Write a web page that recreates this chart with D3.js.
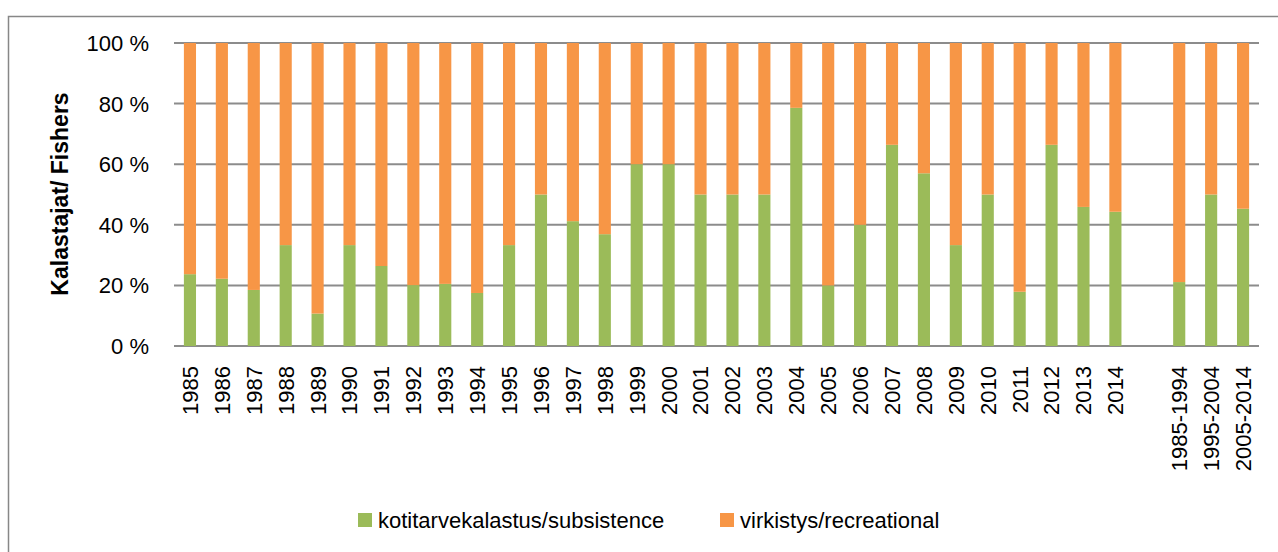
<!DOCTYPE html>
<html lang="fi">
<head>
  <meta charset="UTF-8">
  <title>Kalastajat / Fishers</title>
  <script src="https://d3js.org/d3.v7.min.js"></script>
  <style>
    body {
      margin: 0;
      background: #fff;
      font-family: "Liberation Sans", Arial, sans-serif;
    }
    svg { display: block; }
  </style>
</head>
<body>
  <div id="chart"></div>

  <script>
    const categories = ["1985", "1986", "1987", "1988", "1989", "1990", "1991", "1992", "1993", "1994",
      "1995", "1996", "1997", "1998", "1999", "2000", "2001", "2002", "2003", "2004",
      "2005", "2006", "2007", "2008", "2009", "2010", "2011", "2012", "2013", "2014",
      "", "1985-1994", "1995-2004", "2005-2014"];
    const subsistence = [23.7, 22.2, 18.5, 33.3, 10.7, 33.3, 26.4, 20.1, 20.5, 17.5,
      33.3, 50, 41.2, 36.9, 60, 60, 50, 50, 50, 78.6,
      20, 40, 66.4, 57, 33.3, 50, 17.9, 66.4, 45.9, 44.3,
      null, 21.1, 50, 45.3];
    const recreational = subsistence.map(v => v == null ? null : 100 - v);
    const seriesNames = ["kotitarvekalastus/subsistence", "virkistys/recreational"];
    const seriesColors = ["#9BBB59", "#F79646"];
    const yTicks = [0, 20, 40, 60, 80, 100];

    const width = 1278, height = 552;
    const margin = { left: 174, right: 19, top: 43, bottom: 206 };

    const svg = d3.select("#chart").append("svg")
      .attr("width", width)
      .attr("height", height);

    // outer chart border
    svg.append("rect")
      .attr("x", 8.5).attr("y", 16.5)
      .attr("width", 1300).attr("height", 600)
      .attr("fill", "none")
      .attr("stroke", "#878787")
      .attr("stroke-width", 1.5);

    const x = d3.scaleBand()
      .domain(categories.map((c, i) => i))
      .range([margin.left, width - margin.right])
      .paddingInner(0.62)
      .paddingOuter(0.31);

    const y = d3.scaleLinear()
      .domain([0, 100])
      .range([height - margin.bottom, margin.top]);

    // gridlines
    svg.append("g")
      .selectAll("line")
      .data(yTicks)
      .join("line")
      .attr("x1", margin.left)
      .attr("x2", width - margin.right)
      .attr("y1", d => y(d))
      .attr("y2", d => y(d))
      .attr("stroke", "#8c8c8c")
      .attr("stroke-width", 2);

    // y tick labels
    svg.append("g")
      .selectAll("text")
      .data(yTicks)
      .join("text")
      .attr("x", margin.left - 25)
      .attr("y", d => y(d))
      .attr("dy", "0.36em")
      .attr("text-anchor", "end")
      .style("font-size", "22px")
      .style("fill", "#000")
      .text(d => d + " %");

    // y axis title
    svg.append("text")
      .attr("transform", `translate(68,194) rotate(-90)`)
      .attr("text-anchor", "middle")
      .style("font-size", "23px")
      .style("font-weight", "bold")
      .text("Kalastajat/ Fishers");

    const rows = categories.map((c, i) => ({ i, c, s: subsistence[i], r: recreational[i] }))
      .filter(d => d.s != null);

    // stacked bars
    const bars = svg.append("g");
    bars.selectAll("rect.sub")
      .data(rows)
      .join("rect")
      .attr("class", "sub")
      .attr("x", d => x(d.i))
      .attr("width", x.bandwidth())
      .attr("y", d => y(d.s))
      .attr("height", d => y(0) - y(d.s))
      .attr("fill", seriesColors[0]);

    bars.selectAll("rect.rec")
      .data(rows)
      .join("rect")
      .attr("class", "rec")
      .attr("x", d => x(d.i))
      .attr("width", x.bandwidth())
      .attr("y", d => y(d.s + d.r))
      .attr("height", d => y(d.s) - y(d.s + d.r))
      .attr("fill", seriesColors[1]);

    // x labels (rotated)
    svg.append("g")
      .selectAll("text")
      .data(categories.map((c, i) => ({ c, i })).filter(d => d.c))
      .join("text")
      .attr("transform", d => `translate(${x(d.i) + x.bandwidth() / 2},${y(0) + 20}) rotate(-90)`)
      .attr("text-anchor", "end")
      .attr("dy", "0.36em")
      .style("font-size", "22px")
      .text(d => d.c);

    // legend
    const legendItems = [
      { name: seriesNames[0], color: seriesColors[0], x: 358 },
      { name: seriesNames[1], color: seriesColors[1], x: 720 }
    ];
    const lg = svg.append("g").selectAll("g")
      .data(legendItems)
      .join("g")
      .attr("transform", d => `translate(${d.x},513)`);
    lg.append("rect")
      .attr("width", 14).attr("height", 14)
      .attr("fill", d => d.color);
    lg.append("text")
      .attr("x", 20)
      .attr("y", 7)
      .attr("dy", "0.36em")
      .style("font-size", "22px")
      .text(d => d.name);
  </script>
</body>
</html>
